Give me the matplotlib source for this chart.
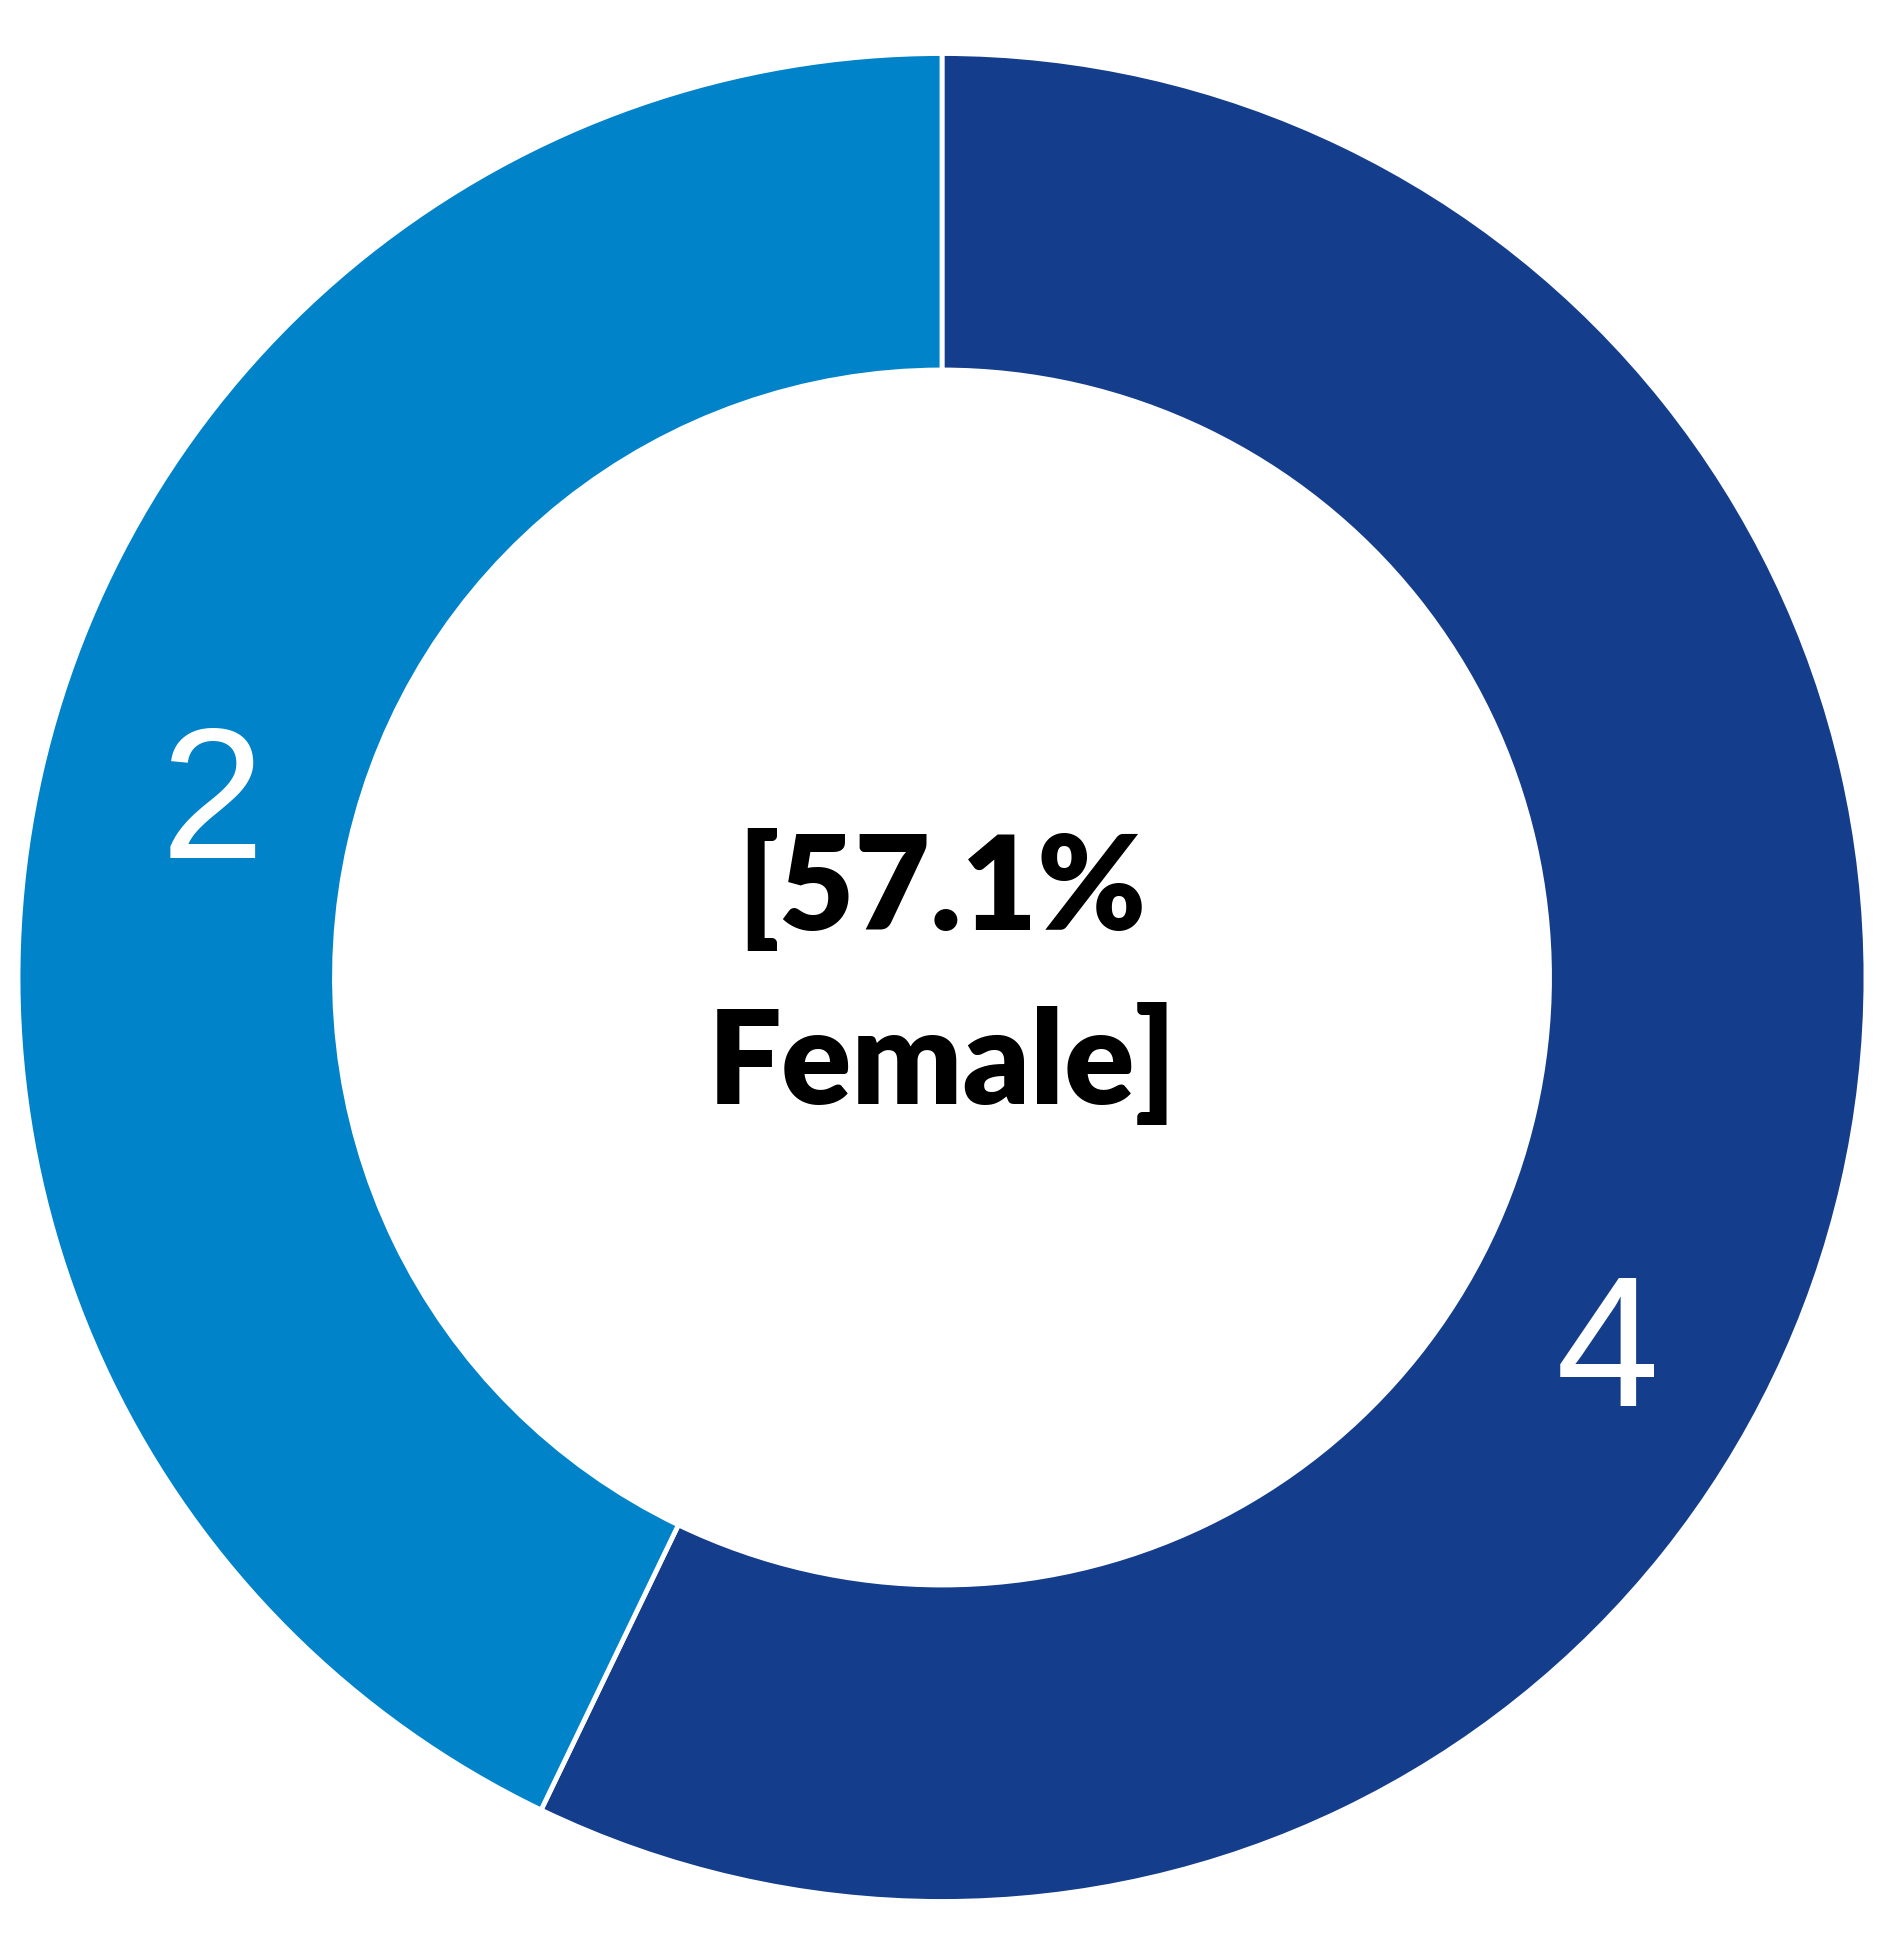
import matplotlib
matplotlib.use("Agg")
import matplotlib.pyplot as plt
import numpy as np

# Data
categories = ["Female", "Male"]
values = [4, 3]
data_labels = ["4", "2"]
colors = ["#143D8C", "#0083C9"]
center_text = "[57.1%\nFemale]"

W, H = 1889, 1955
fig = plt.figure(figsize=(W / 100, H / 100), dpi=100)
cx, cy, R = 942, 977.5, 924
ax = fig.add_axes([(cx - R) / W, (H - cy - R) / H, 2 * R / W, 2 * R / H])

ring = 1 - 607.5 / 924
wedges, _ = ax.pie(values, colors=colors, startangle=90, counterclock=False,
                   radius=1, wedgeprops=dict(width=ring, edgecolor="white", linewidth=3.5))
ax.set_xlim(-1, 1)
ax.set_ylim(-1, 1)
ax.set_aspect("equal")
ax.axis("off")

# Data label positions (angle in degrees, radius fraction)
label_pos = [(-29.74, 0.8295), (167.1, 0.810)]
for lab, (ang, r) in zip(data_labels, label_pos):
    a = np.deg2rad(ang)
    ax.text(r * np.cos(a), r * np.sin(a), lab, ha="center", va="center",
            color="white", fontsize=134, family="Liberation Sans")

ax.text(0.0, 0.0, center_text, ha="center", va="center", fontsize=94,
        fontweight="heavy", family="Lato", linespacing=1.5, color="black")

fig.savefig("out.png", dpi=100)
